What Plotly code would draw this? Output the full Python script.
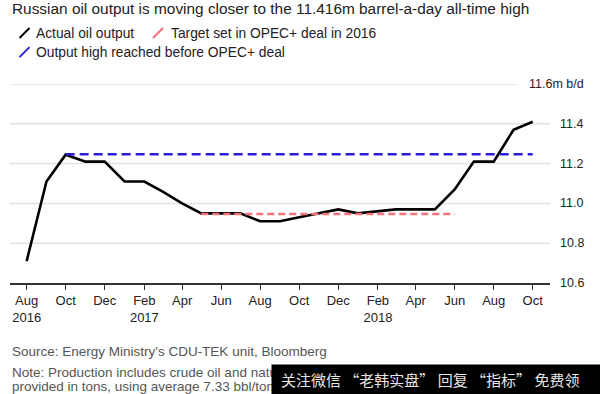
import plotly.graph_objects as go

# ---------------- data ----------------
months = ["2016-08-01", "2016-09-01", "2016-10-01", "2016-11-01", "2016-12-01",
          "2017-01-01", "2017-02-01", "2017-03-01", "2017-04-01", "2017-05-01",
          "2017-06-01", "2017-07-01", "2017-08-01", "2017-09-01", "2017-10-01",
          "2017-11-01", "2017-12-01", "2018-01-01", "2018-02-01", "2018-03-01",
          "2018-04-01", "2018-05-01", "2018-06-01", "2018-07-01", "2018-08-01",
          "2018-09-01", "2018-10-01"]
actual_output = [10.71, 11.11, 11.245, 11.21, 11.21, 11.11, 11.11, 11.06, 11.00, 10.95,
                 10.95, 10.95, 10.91, 10.91, 10.93, 10.95, 10.97, 10.95, 10.96, 10.97,
                 10.97, 10.97, 11.07, 11.21, 11.21, 11.37, 11.41]

target_months = ["2017-05-01", "2018-06-01"]
target_values = [10.947, 10.947]

high_months = ["2016-10-01", "2018-10-01"]
high_values = [11.247, 11.247]

x_tickvals = ["2016-08-01", "2016-10-01", "2016-12-01", "2017-02-01", "2017-04-01",
              "2017-06-01", "2017-08-01", "2017-10-01", "2017-12-01", "2018-02-01",
              "2018-04-01", "2018-06-01", "2018-08-01", "2018-10-01"]
x_ticktext = ["Aug<br>2016", "Oct", "Dec", "Feb<br>2017", "Apr", "Jun", "Aug", "Oct",
              "Dec", "Feb<br>2018", "Apr", "Jun", "Aug", "Oct"]
y_tickvals = [10.6, 10.8, 11.0, 11.2, 11.4, 11.6]
y_ticktext = ["10.6", "10.8", "11.0", "11.2", "11.4", "11.6m b/d"]

title_text = "Russian oil output is moving closer to the 11.416m barrel-a-day all-time high"
legend_names = ["Actual oil output", "Target set in OPEC+ deal in 2016",
                "Output high reached before OPEC+ deal"]
source_text = "Source: Energy Ministry's CDU-TEK unit, Bloomberg"
note_lines = ["Note: Production includes crude oil and natural gas condensate. Data",
              "provided in tons, using average 7.33 bbl/ton conversion"]
watermark_text = "关注微信 “老韩实盘” 回复 “指标” 免费领"

# ---------------- layout helpers (pixel -> paper) ----------------
W, H = 600, 394
L, R, T, B = 10, 550, 84.3, 282.7


def fx(px):
    return (px - L) / (R - L)


def fy(py):
    return (B - py) / (B - T)


FONT = "Liberation Sans, Arial, Helvetica, sans-serif"
BLACK = "#000000"
RED = "#f4727a"
BLUE = "#2a1fd6"
GRID = "#e2e2e2"
TXT = "#222222"
GREY = "#555555"

fig = go.Figure()
fig.add_trace(go.Scatter(x=months, y=actual_output, mode="lines",
                         line=dict(color=BLACK, width=2.6), name=legend_names[0],
                         showlegend=False))
fig.add_trace(go.Scatter(x=target_months, y=target_values, mode="lines",
                         line=dict(color=RED, width=2.6, dash="7px,4px"),
                         name=legend_names[1], showlegend=False))
fig.add_trace(go.Scatter(x=high_months, y=high_values, mode="lines",
                         line=dict(color=BLUE, width=2.6, dash="9px,5px"),
                         name=legend_names[2], showlegend=False))

shapes = []
# horizontal gridlines (top one shortened to leave room for its longer label)
for v, t in zip(y_tickvals, y_ticktext):
    if v == y_tickvals[0]:
        continue
    x1 = fx(517) if "b/d" in t else 1
    shapes.append(dict(type="line", xref="paper", yref="y", x0=0, x1=x1, y0=v, y1=v,
                       line=dict(color=GRID, width=1.5), layer="below"))

# legend slashes
legend_rows = [(19.5, 38.5, BLACK), (153, 38.5, RED), (19.5, 57.5, BLUE)]
for (sx, sy, c) in legend_rows:
    shapes.append(dict(type="line", xref="paper", yref="paper",
                       x0=fx(sx), y0=fy(sy), x1=fx(sx + 10), y1=fy(sy - 10),
                       line=dict(color=c, width=2)))

annotations = []
# y tick labels (right side)
for v, t in zip(y_tickvals, y_ticktext):
    xpos = 527 if "b/d" in t else 558
    annotations.append(dict(x=fx(xpos), y=v, xref="paper", yref="y", text=t,
                            showarrow=False, xanchor="left", yanchor="middle",
                            font=dict(family=FONT, size=12.5, color=TXT)))
# title
annotations.append(dict(x=fx(10), y=fy(9), xref="paper", yref="paper", text=title_text,
                        showarrow=False, xanchor="left", yanchor="middle",
                        font=dict(family=FONT, size=15.4, color=TXT)))
# legend labels
for (lx, ly, t) in [(34, 34, legend_names[0]), (168.5, 34, legend_names[1]),
                    (34, 53, legend_names[2])]:
    annotations.append(dict(x=fx(lx), y=fy(ly), xref="paper", yref="paper", text=t,
                            showarrow=False, xanchor="left", yanchor="middle",
                            font=dict(family=FONT, size=13.8, color=TXT)))
# source & note
annotations.append(dict(x=fx(10), y=fy(351), xref="paper", yref="paper", text=source_text,
                        showarrow=False, xanchor="left", yanchor="middle",
                        font=dict(family=FONT, size=13.5, color=GREY)))
for ly, t in zip([372.3, 386.3], note_lines):
    annotations.append(dict(x=fx(10), y=fy(ly), xref="paper", yref="paper", text=t,
                            showarrow=False, xanchor="left", yanchor="middle",
                            font=dict(family=FONT, size=13.5, color=GREY)))
# watermark box + text (drawn last so it covers the note, as in the reference)
annotations.append(dict(x=fx(270.7), y=fy(363.3), xref="paper", yref="paper", text=" ",
                        showarrow=False, xanchor="left", yanchor="top",
                        width=330, height=31, bgcolor="#000000", borderpad=0,
                        font=dict(size=2)))
annotations.append(dict(x=fx(279), y=fy(379), xref="paper", yref="paper", text=watermark_text,
                        showarrow=False, xanchor="left", yanchor="middle",
                        font=dict(family="Noto Sans CJK SC, sans-serif", size=15,
                                  color="#e6e6e6")))

fig.update_layout(
    width=W, height=H,
    margin=dict(l=L, r=W - R, t=T, b=H - B, pad=0),
    paper_bgcolor="white", plot_bgcolor="white",
    showlegend=False,
    shapes=shapes, annotations=annotations,
    xaxis=dict(type="date", range=["2016-07-06", "2018-10-28"],
               tickvals=x_tickvals, ticktext=x_ticktext,
               showgrid=False, zeroline=False,
               showline=True, linecolor="#333333", linewidth=1.5,
               ticks="outside", ticklen=5, tickwidth=1, tickcolor="#333333",
               tickfont=dict(family=FONT, size=13, color=TXT)),
    yaxis=dict(range=[10.6, 11.6], showgrid=False, zeroline=False,
               showticklabels=False, showline=False, ticks=""),
)

fig.write_html("out.html", config={"displayModeBar": False},
               post_script="document.body.style.margin='0';document.body.style.overflow='hidden';")
